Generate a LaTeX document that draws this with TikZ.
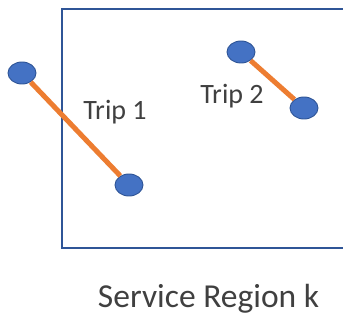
\documentclass[tikz,border=0pt]{standalone}
\usepackage{fontspec}
\setmainfont{Carlito}
\usepackage{tikz}
\usetikzlibrary{shapes.geometric}
\definecolor{dotblue}{HTML}{4472C4}
\definecolor{edgeblue}{HTML}{2F5597}
\definecolor{tripline}{HTML}{ED7D31}
\definecolor{labelgray}{HTML}{404040}

\begin{document}
\begin{tikzpicture}[x=1pt, y=-1pt,
		stop/.style={ellipse, draw=edgeblue, line width=0.9pt, fill=dotblue, minimum width=28pt, minimum height=22pt, inner sep=0pt},
		trip/.style={line width=5pt, color=tripline},
		lbl/.style={text=labelgray, inner sep=0pt}]
			%%%%% START %%%%%
			
			\clip (0, 0) rectangle (343, 320);
			\fill[white] (0, 0) rectangle (343, 320);
			
			% region border, runs off the right side
			\draw[line width=2pt, color=edgeblue] (61.5, 249) -- (61.5, 9.5) -- (350, 9.5);
			\draw[line width=2pt, color=edgeblue] (61.5, 248) -- (350, 248);
			
			% trip end points
			\node[stop] (t1a) at (22, 73) {};
			\node[stop] (t1b) at (129, 185) {};
			\node[stop] (t2a) at (241, 52) {};
			\node[stop] (t2b) at (304, 108) {};
			
			\draw[trip] (t1a) -- (t1b);
			\draw[trip] (t2a) -- (t2b);
			
			\node[lbl, font=\fontsize{28}{30}\selectfont] (trip1) at (115, 112) {Trip 1};
			\node[lbl, font=\fontsize{28}{30}\selectfont] (trip2) at (232, 96) {Trip 2};
			
			\node[lbl, font=\fontsize{33.5}{36}\selectfont] (region) at (208.5, 299) {Service Region k};
			
			%%%%% END %%%%%
		\end{tikzpicture}
\end{document}
